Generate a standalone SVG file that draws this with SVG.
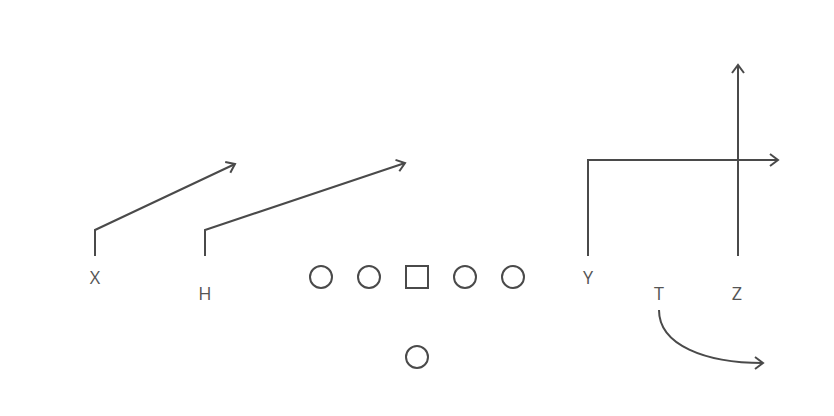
<svg xmlns="http://www.w3.org/2000/svg" width="834" height="416" viewBox="0 0 834 416">
<style>
.r{fill:none;stroke:#4a4a4a;stroke-width:2;marker-end:url(#ah)}
.p{fill:#fff;stroke:#4a4a4a;stroke-width:2}
.t{font-family:"Open Sans","Liberation Sans",sans-serif;font-size:18px;fill:#555;text-anchor:middle}
</style>
<defs>
<marker id="ah" markerUnits="userSpaceOnUse" markerWidth="20" markerHeight="20" viewBox="-10 -10 20 20" refX="0" refY="0" orient="auto">
<path d="M-8,-6 L0,0 L-8,6" fill="none" stroke="#4a4a4a" stroke-width="2"/>
</marker>
</defs>
<rect width="834" height="416" fill="#fff"/>
<g id="connectors">
<path class="r" d="M95,256 V230 L235,164"/>
<path class="r" d="M205,256 V230 L405,163"/>
<path class="r" d="M588,256 V160 H778"/>
<path class="r" d="M738,256 V65"/>
<path class="r" d="M659,310 C659,345 705,363 763,363"/>
</g>
<g id="lt"><circle class="p" cx="321" cy="277" r="11"/></g>
<g id="lg"><circle class="p" cx="369" cy="277" r="11"/></g>
<g id="c"><rect class="p" x="406" y="266" width="22" height="22"/></g>
<g id="rg"><circle class="p" cx="465" cy="277" r="11"/></g>
<g id="rt"><circle class="p" cx="513" cy="277" r="11"/></g>
<g id="qb"><circle class="p" cx="417" cy="357" r="11"/></g>
<g id="X"><text class="t" x="95" y="284">X</text></g>
<g id="H"><text class="t" x="205" y="300">H</text></g>
<g id="Y"><text class="t" x="588" y="284">Y</text></g>
<g id="T"><text class="t" x="659" y="300">T</text></g>
<g id="Z"><text class="t" x="737" y="300">Z</text></g>
</svg>
